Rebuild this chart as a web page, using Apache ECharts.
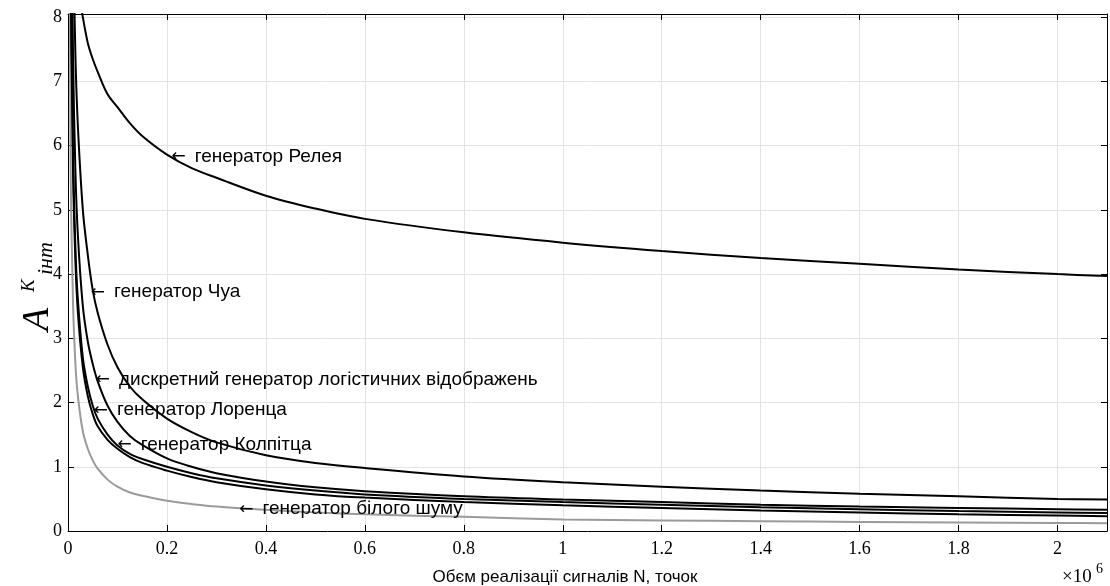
<!DOCTYPE html>
<html>
<head>
<meta charset="utf-8">
<script src="https://cdn.jsdelivr.net/npm/echarts@6/dist/echarts.min.js"></script>
<style>
  html, body { margin: 0; padding: 0; background: #fff; }
  #chart { width: 1110px; height: 586px; }
</style>
</head>
<body>
<div id="chart"></div>
<script>
// обсяг реалізації, x10^6 точок
var xs = [0.002, 0.005, 0.01, 0.015, 0.02, 0.03, 0.04, 0.05, 0.06, 0.08, 0.1, 0.125, 0.15, 0.2, 0.25, 0.3, 0.4, 0.5, 0.6, 0.8, 1.0, 1.2, 1.4, 1.6, 1.8, 2.0, 2.1];

// значення A^K_інт
var rayleigh  = [20, 13, 10, 9.0, 8.5, 8.0, 7.6, 7.35, 7.15, 6.8, 6.6, 6.35, 6.15, 5.86, 5.65, 5.5, 5.22, 5.02, 4.86, 4.65, 4.49, 4.36, 4.25, 4.16, 4.07, 4.0, 3.97];
var chua      = [30, 14, 9.5, 7.4, 6.3, 5.0, 4.3, 3.75, 3.4, 2.9, 2.55, 2.25, 2.05, 1.75, 1.54, 1.38, 1.18, 1.06, 0.98, 0.85, 0.76, 0.69, 0.63, 0.58, 0.54, 0.50, 0.49];
var logistic  = [26, 12, 7.5, 5.6, 4.6, 3.5, 2.95, 2.6, 2.33, 1.95, 1.7, 1.48, 1.34, 1.13, 1.0, 0.9, 0.77, 0.68, 0.62, 0.54, 0.49, 0.45, 0.41, 0.38, 0.36, 0.34, 0.33];
var lorenz    = [22, 10, 6.0, 4.4, 3.6, 2.7, 2.25, 1.95, 1.75, 1.5, 1.33, 1.2, 1.12, 1.0, 0.9, 0.82, 0.71, 0.63, 0.57, 0.5, 0.45, 0.41, 0.37, 0.34, 0.31, 0.29, 0.28];
var colpitts  = [21, 9.5, 5.7, 4.2, 3.4, 2.55, 2.1, 1.82, 1.63, 1.42, 1.28, 1.15, 1.06, 0.94, 0.84, 0.76, 0.65, 0.57, 0.52, 0.45, 0.40, 0.36, 0.32, 0.29, 0.26, 0.24, 0.23];
var whiteNoise = [14, 6.0, 3.6, 2.6, 2.1, 1.55, 1.28, 1.1, 0.97, 0.8, 0.69, 0.6, 0.55, 0.47, 0.42, 0.38, 0.33, 0.29, 0.26, 0.22, 0.18, 0.165, 0.152, 0.142, 0.133, 0.125, 0.12];

// підписи кривих: [x, y, текст]
var labels = [
  [0.209, 5.83, 'генератор Релея'],
  [0.046, 3.72, 'генератор Чуа'],
  [0.056, 2.36, 'дискретний генератор логістичних відображень'],
  [0.052, 1.88, 'генератор Лоренца'],
  [0.100, 1.35, 'генератор Колпітца'],
  [0.346, 0.34, 'генератор білого шуму']
];

var myChart = echarts.init(document.getElementById('chart'), null, { renderer: 'canvas' });

function pairs(ys) {
  return xs.map(function (x, i) { return [x, ys[i]]; });
}

function mark(i) {
  var l = labels[i];
  return {
    symbol: 'circle',
    symbolSize: 0,
    silent: true,
    label: {
      show: true,
      position: 'right',
      distance: 0,
      formatter: '{a|\u2190}' + l[2],
      color: '#000',
      fontFamily: 'Liberation Sans',
      fontSize: 19,
      rich: {
        a: { fontFamily: 'DejaVu Sans', fontSize: 17, color: '#000', padding: [0, 9, 0, 0] }
      }
    },
    data: [{ coord: [l[0], l[1]] }]
  };
}

function curve(ys, color, idx) {
  var s = {
    type: 'line',
    data: pairs(ys),
    showSymbol: false,
    smooth: 0.35,
    clip: true,
    lineStyle: { color: color, width: 2 },
    z: color === '#000' ? 3 : 2
  };
  if (idx != null) s.markPoint = mark(idx);
  return s;
}

var serif = 'Liberation Serif';

var boxAxis = {
  axisLine: { show: true, onZero: false, lineStyle: { color: '#000', width: 1 } },
  axisTick: { show: true, inside: true, length: 6, lineStyle: { color: '#000' } },
  splitLine: { show: false },
  axisLabel: { show: false }
};

option = {
  animation: false,
  backgroundColor: '#fff',
  grid: { left: 68, right: 3, top: 14, bottom: 55, show: false },
  xAxis: [
    {
      type: 'value',
      min: 0,
      max: 2.1,
      interval: 0.2,
      axisLine: { show: true, onZero: false, lineStyle: { color: '#000', width: 1 } },
      axisTick: { show: true, inside: true, length: 6, lineStyle: { color: '#000' } },
      splitLine: { show: true, lineStyle: { color: '#e3e3e3', width: 1 } },
      axisLabel: {
        color: '#000',
        fontFamily: serif,
        fontSize: 18,
        margin: 9,
        formatter: function (v) {
          var k = Math.round(v / 0.2);
          return Math.abs(v - k * 0.2) < 1e-6 ? String(+v.toFixed(1)) : '';
        }
      }
    },
    Object.assign({ type: 'value', position: 'top', min: 0, max: 2.1, interval: 0.2 }, boxAxis)
  ],
  yAxis: [
    {
      type: 'value',
      min: 0,
      max: 8.05,
      interval: 1,
      axisLine: { show: true, onZero: false, lineStyle: { color: '#000', width: 1 } },
      axisTick: { show: true, inside: true, length: 6, lineStyle: { color: '#000' } },
      splitLine: { show: true, lineStyle: { color: '#e3e3e3', width: 1 } },
      axisLabel: {
        color: '#000',
        fontFamily: serif,
        fontSize: 18,
        margin: 6,
        formatter: function (v) {
          return Math.abs(v - Math.round(v)) < 1e-6 ? String(Math.round(v)) : '';
        }
      }
    },
    Object.assign({ type: 'value', position: 'right', min: 0, max: 8.05, interval: 1 }, boxAxis)
  ],
  graphic: [
    {
      type: 'text',
      x: 565,
      y: 569,
      style: {
        text: 'Обєм реалізації сигналів N, точок',
        fill: '#000',
        align: 'center',
        font: '17px "Liberation Sans"'
      }
    },
    {
      type: 'text',
      x: 1062,
      y: 568,
      style: { text: '\u00d710', fill: '#000', font: '19px "Liberation Serif"' }
    },
    {
      type: 'text',
      x: 1096,
      y: 562,
      style: { text: '6', fill: '#000', font: '14px "Liberation Serif"' }
    },
    {
      type: 'group',
      x: 3,
      y: 331,
      rotation: Math.PI / 2,
      children: [
        { type: 'text', x: 0, y: 16, style: { text: 'A', fill: '#000', font: 'italic 38px "Liberation Serif"' } },
        { type: 'text', x: 39, y: 16, style: { text: 'K', fill: '#000', font: 'italic 19px "Liberation Serif"' } },
        { type: 'text', x: 56, y: 32, style: { text: 'інт', fill: '#000', font: 'italic 22px "Liberation Serif"' } }
      ]
    }
  ],
  series: [
    curve(whiteNoise, '#9a9a9a', 5),
    curve(colpitts, '#000', 4),
    curve(lorenz, '#000', 3),
    curve(logistic, '#000', 2),
    curve(chua, '#000', 1),
    curve(rayleigh, '#000', 0)
  ]
};

myChart.setOption(option);
</script>
</body>
</html>
